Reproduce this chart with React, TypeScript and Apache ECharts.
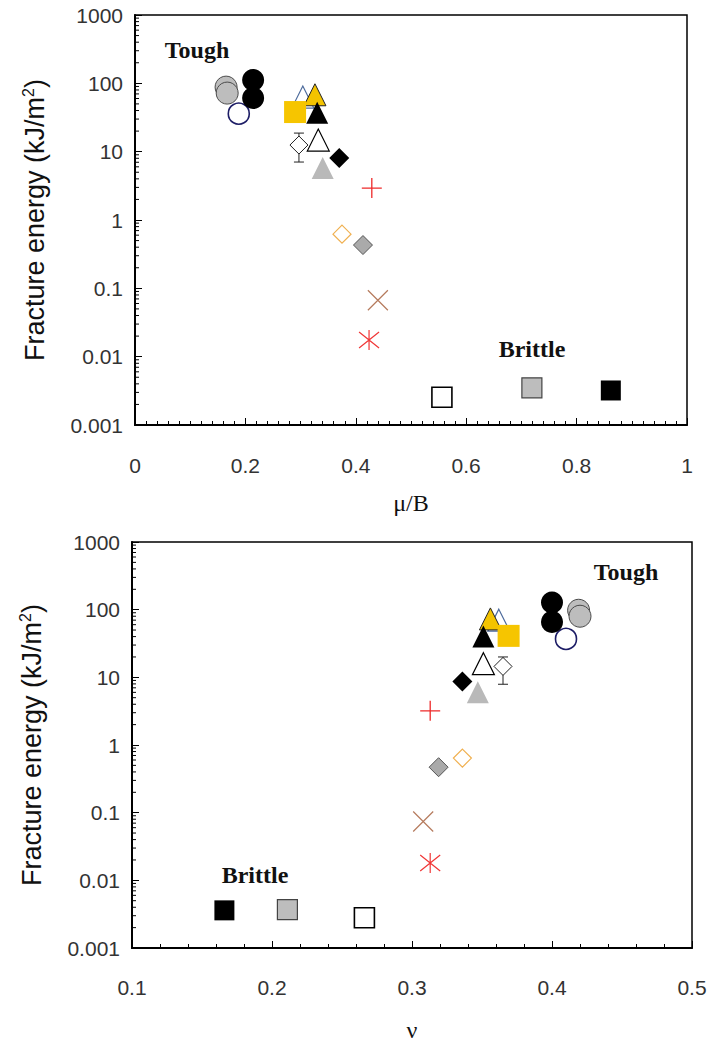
import React, { useEffect, useRef } from "react";
import * as echarts from "echarts";

// Point order (same materials in both panels):
// 0-1 grey circles, 2-3 black circles, 4 open circle, 5 open triangle (blue), 6 yellow triangle,
// 7 yellow square, 8 black triangle, 9 open triangle, 10 open diamond (error bar), 11 grey triangle,
// 12 black diamond, 13 red plus, 14 orange open diamond, 15 grey diamond, 16 brown cross,
// 17 red asterisk, 18 open square, 19 grey square, 20 black square
const muOverB = [0.165, 0.167, 0.214, 0.214, 0.188, 0.304, 0.326, 0.29, 0.33, 0.332, 0.297, 0.34, 0.37, 0.429, 0.375, 0.413, 0.44, 0.424, 0.556, 0.719, 0.862];
const energyTop = [88, 72, 112, 61, 36, 63, 68, 38, 37, 14.8, 12.5, 5.75, 8.05, 2.93, 0.62, 0.43, 0.067, 0.0175, 0.00255, 0.0035, 0.0032];
const errorTop = [7.05, 18.7];

const poisson = [0.419, 0.42, 0.4, 0.4, 0.41, 0.362, 0.356, 0.369, 0.351, 0.351, 0.365, 0.347, 0.336, 0.313, 0.336, 0.319, 0.308, 0.313, 0.266, 0.211, 0.166];
const energyBottom = [98, 80, 128, 66, 37, 70, 73, 41, 40, 15.9, 14.5, 6.0, 8.7, 3.2, 0.64, 0.47, 0.074, 0.018, 0.0028, 0.0037, 0.0036];
const errorBottom = [7.9, 20];

const decades = [0.001, 0.01, 0.1, 1, 10, 100];
const minorMultipliers = [2, 3, 4, 5, 6, 7, 8, 9];

const FONT_SANS = "'Liberation Sans', Arial, sans-serif";
const FONT_SERIF = "'Liberation Serif', 'Times New Roman', serif";

const PLUS = "path://M0 10 L20 10 M10 0 L10 20";
const CROSS = "path://M0 0 L20 20 M20 0 L0 20";
const STAR = "path://M2 2 L18 18 M18 2 L2 18 M10 0 L10 20";

const markers = [
  { idx: [0, 1], symbol: "circle", size: 22, style: { color: "#bdbdbd", borderColor: "#4a4a4a", borderWidth: 1 } },
  { idx: [4], symbol: "circle", size: 21, style: { color: "#ffffff", borderColor: "#1d1d66", borderWidth: 1.6 } },
  { idx: [2, 3], symbol: "circle", size: 22, style: { color: "#000000" } },
  { idx: [5], symbol: "triangle", size: 22, style: { color: "#ffffff", borderColor: "#4d6b9c", borderWidth: 1.2 } },
  { idx: [6], symbol: "triangle", size: 22, style: { color: "#f3c300", borderColor: "#222222", borderWidth: 1 } },
  { idx: [7], symbol: "rect", size: 22, style: { color: "#f6c500" } },
  { idx: [8], symbol: "triangle", size: 22, style: { color: "#000000" } },
  { idx: [9], symbol: "triangle", size: 22, style: { color: "#ffffff", borderColor: "#000000", borderWidth: 1.2 } },
  { idx: [10], symbol: "diamond", size: 18, style: { color: "#ffffff", borderColor: "#222222", borderWidth: 1 } },
  { idx: [11], symbol: "triangle", size: 22, style: { color: "#b9b9b9" } },
  { idx: [12], symbol: "diamond", size: 20, style: { color: "#000000" } },
  { idx: [13], symbol: PLUS, size: 20, style: { color: "transparent", borderColor: "#ee2a2a", borderWidth: 1.3 } },
  { idx: [14], symbol: "diamond", size: 18, style: { color: "#ffffff", borderColor: "#f0b050", borderWidth: 1.2 } },
  { idx: [15], symbol: "diamond", size: 19, style: { color: "#aaaaaa", borderColor: "#555555", borderWidth: 1 } },
  { idx: [16], symbol: CROSS, size: 20, style: { color: "transparent", borderColor: "#b57a5c", borderWidth: 1.2 } },
  { idx: [17], symbol: STAR, size: 20, style: { color: "transparent", borderColor: "#f03636", borderWidth: 1.2 } },
  { idx: [18], symbol: "rect", size: 20, style: { color: "#ffffff", borderColor: "#000000", borderWidth: 1.6 } },
  { idx: [19], symbol: "rect", size: 20, style: { color: "#bdbdbd", borderColor: "#444444", borderWidth: 1.2 } },
  { idx: [20], symbol: "rect", size: 20, style: { color: "#000000" } },
];

function minorTickData(xMin: number) {
  const out: number[][] = [];
  decades.forEach((d) => minorMultipliers.forEach((m) => out.push([xMin, d * m])));
  return out;
}

function panelSeries(xs: number[], ys: number[], err: number[], axis: number, xMin: number) {
  const list: any[] = [];
  markers.forEach((mk) => {
    list.push({
      type: "scatter",
      xAxisIndex: axis,
      yAxisIndex: axis,
      symbol: mk.symbol,
      symbolSize: mk.size,
      itemStyle: { ...mk.style, opacity: 1 },
      data: mk.idx.map((i) => [xs[i], ys[i]]),
      silent: true,
    });
    if (mk.idx[0] === 10) {
      list.push({
        type: "custom",
        xAxisIndex: axis,
        yAxisIndex: axis,
        silent: true,
        data: [[xs[10], err[0], err[1]]],
        renderItem: (params: any, api: any) => {
          const lo = api.coord([api.value(0), api.value(1)]);
          const hi = api.coord([api.value(0), api.value(2)]);
          const cap = 5;
          const st = { stroke: "#222", lineWidth: 1 };
          return {
            type: "group",
            children: [
              { type: "line", shape: { x1: lo[0], y1: lo[1], x2: hi[0], y2: hi[1] }, style: st },
              { type: "line", shape: { x1: lo[0] - cap, y1: lo[1], x2: lo[0] + cap, y2: lo[1] }, style: st },
              { type: "line", shape: { x1: hi[0] - cap, y1: hi[1], x2: hi[0] + cap, y2: hi[1] }, style: st },
            ],
          };
        },
      });
    }
  });
  list.push({
    type: "custom",
    xAxisIndex: axis,
    yAxisIndex: axis,
    silent: true,
    data: minorTickData(xMin),
    renderItem: (params: any, api: any) => {
      const p = api.coord([api.value(0), api.value(1)]);
      return { type: "line", shape: { x1: p[0], y1: p[1], x2: p[0] + 4, y2: p[1] }, style: { stroke: "#000", lineWidth: 1 } };
    },
  });
  return list;
}

function yAxis(gridIndex: number) {
  return {
    type: "log",
    gridIndex,
    logBase: 10,
    min: 0.001,
    max: 1000,
    splitNumber: 6,
    name: "Fracture energy (kJ/m{sup|2})",
    nameLocation: "middle",
    nameGap: 86,
    nameTextStyle: {
      fontFamily: FONT_SANS,
      fontSize: 27,
      color: "#111",
      rich: { sup: { fontFamily: FONT_SANS, fontSize: 16, color: "#111", padding: [0, 0, 13, 0] } },
    },
    axisLine: { show: true, lineStyle: { color: "#000", width: 2 } },
    axisTick: { show: true, inside: true, length: 7, lineStyle: { color: "#000" } },
    splitLine: { show: false },
    axisLabel: {
      fontFamily: FONT_SANS,
      fontSize: 21,
      color: "#333",
      margin: 12,
      formatter: (v: number) => String(Number(v.toPrecision(3))),
    },
  };
}

export default function App() {
  const ref = useRef<HTMLDivElement>(null);
  useEffect(() => {
    const chart = echarts.init(ref.current!, null, { renderer: "svg" });
    const option: any = {
      animation: false,
      backgroundColor: "#ffffff",
      grid: [
        { left: 135, top: 15, width: 552, height: 410, show: true, borderColor: "#000", borderWidth: 1.5, containLabel: false },
        { left: 132, top: 542, width: 560, height: 411, show: true, borderColor: "#000", borderWidth: 1.5, containLabel: false },
      ],
      xAxis: [
        {
          type: "value",
          gridIndex: 0,
          min: 0,
          max: 1,
          interval: 0.2,
          name: "\u03bc/B",
          nameLocation: "middle",
          nameGap: 66,
          nameTextStyle: { fontFamily: FONT_SERIF, fontSize: 24, color: "#111" },
          axisLine: { lineStyle: { color: "#000", width: 2 } },
          axisTick: { inside: true, length: 7, lineStyle: { color: "#000" } },
          minorTick: { show: true, splitNumber: 10, length: 4, lineStyle: { color: "#000" } },
          splitLine: { show: false },
          axisLabel: { fontFamily: FONT_SANS, fontSize: 21, color: "#333", margin: 30 },
        },
        {
          type: "value",
          gridIndex: 1,
          min: 0.1,
          max: 0.5,
          interval: 0.1,
          name: "\u03bd",
          nameLocation: "middle",
          nameGap: 70,
          nameTextStyle: { fontFamily: FONT_SERIF, fontSize: 24, color: "#111" },
          axisLine: { lineStyle: { color: "#000", width: 2 } },
          axisTick: { inside: true, length: 7, lineStyle: { color: "#000" } },
          minorTick: { show: true, splitNumber: 5, length: 4, lineStyle: { color: "#000" } },
          splitLine: { show: false },
          axisLabel: { fontFamily: FONT_SANS, fontSize: 21, color: "#333", margin: 29 },
        },
      ],
      yAxis: [yAxis(0), yAxis(1)],
      series: [
        ...panelSeries(muOverB, energyTop, errorTop, 0, 0),
        ...panelSeries(poisson, energyBottom, errorBottom, 1, 0.1),
      ],
      graphic: [
        { type: "text", x: 197, y: 50, style: { text: "Tough", font: `bold 24px ${FONT_SERIF}`, fill: "#111", align: "center", verticalAlign: "middle" } },
        { type: "text", x: 532, y: 349, style: { text: "Brittle", font: `bold 24px ${FONT_SERIF}`, fill: "#111", align: "center", verticalAlign: "middle" } },
        { type: "text", x: 626, y: 572, style: { text: "Tough", font: `bold 24px ${FONT_SERIF}`, fill: "#111", align: "center", verticalAlign: "middle" } },
        { type: "text", x: 255, y: 875, style: { text: "Brittle", font: `bold 24px ${FONT_SERIF}`, fill: "#111", align: "center", verticalAlign: "middle" } },
      ],
    };
    chart.setOption(option);
    return () => chart.dispose();
  }, []);
  return <div ref={ref} style={{ position: "absolute", left: 0, top: 0, width: 710, height: 1043, background: "#fff" }} />;
}
